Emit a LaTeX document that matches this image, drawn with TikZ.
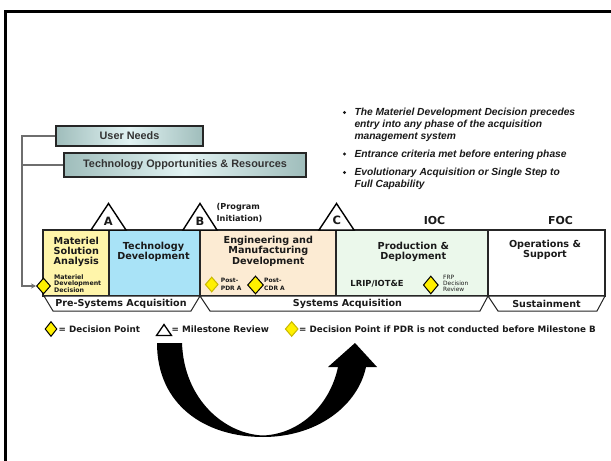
\documentclass[tikz,border=0pt]{standalone}
\usepackage{fontspec}
\setmainfont{DejaVu Sans}
\newfontfamily\arialf{Liberation Sans}
\usetikzlibrary{shapes.geometric,arrows.meta}

\definecolor{ink}{HTML}{1A1A1A}
\definecolor{msafill}{HTML}{FFF5AA}
\definecolor{tdfill}{HTML}{A9E3F7}
\definecolor{emdfill}{HTML}{FCEBD3}
\definecolor{pdfill}{HTML}{EBF8EB}
\definecolor{tealedge}{HTML}{9FBDBB}
\definecolor{tealmid}{HTML}{E2F3F3}
\definecolor{dpyellow}{HTML}{FFF000}
\definecolor{dpedge}{HTML}{C9B800}
\definecolor{railgray}{HTML}{6E6E6E}

\tikzset{
  topbox/.style={draw=black!85, line width=1.7bp, left color=tealedge, right color=tealedge,
    middle color=tealmid, text=black!80, font=\arialf\bfseries\fontsize{10.9}{12}\selectfont, inner sep=0pt},
  phasebox/.style={draw=black!85, line width=1.2bp, anchor=north west, inner sep=0pt, outer sep=0pt},
  ptitle/.style={text=ink, font=\bfseries\fontsize{9.7}{10.2}\selectfont, align=center, inner sep=0pt},
  dpoint/.style={diamond, draw=black, line width=1bp, fill=dpyellow, inner sep=0pt,
    minimum width=14bp, minimum height=16bp},
  dpalt/.style={dpoint, draw=dpedge},
  mstri/.style={draw=black, line width=1.4bp, fill=white, line join=miter},
  mslet/.style={text=ink, font=\bfseries\fontsize{11.5}{12}\selectfont, inner sep=0pt},
  band/.style={draw=black!85, line width=1bp, fill=white, line join=miter},
  bandtxt/.style={text=ink, font=\bfseries\fontsize{9.6}{10}\selectfont, inner sep=0pt},
  tinytxt/.style={text=ink, align=left, inner sep=0pt, anchor=west},
  legtxt/.style={text=ink, font=\bfseries\fontsize{8.8}{10}\selectfont, inner sep=0pt, anchor=west},
  notetxt/.style={text=ink, font=\arialf\bfseries\itshape\fontsize{10.3}{12.2}\selectfont,
    align=left, inner sep=0pt, anchor=north west},
  notedot/.style={circle, fill=ink, minimum size=3.2bp, inner sep=0pt},
  rail/.style={draw=railgray, line width=1.2bp},
}

\begin{document}
\begin{tikzpicture}[x=1bp,y=-1bp]
\useasboundingbox (0,0) rectangle (611,461);
\fill[white] (0,0) rectangle (611,461);

% outer frame
\draw[line width=2.6bp] (5.6,480) -- (5.6,11.4) -- (630,11.4);

% inputs
\node[topbox, minimum width=147bp, minimum height=20bp] (un) at (129.5,136) {User Needs};
\node[topbox, minimum width=242bp, minimum height=24bp] (tor) at (185,165) {Technology Opportunities \& Resources};

% notes
\node[notedot] (d1) at (344.5,112.5) {};
\node[notetxt] (t1) at (354.3,107.6) {The Materiel Development Decision precedes\\entry into any phase of the acquisition\\management system};
\node[notedot] (d2) at (344.5,154) {};
\node[notetxt] (t2) at (354.3,149.4) {Entrance criteria met before entering phase};
\node[notedot] (d3) at (344.5,172.5) {};
\node[notetxt] (t3) at (354.3,167.6) {Evolutionary Acquisition or Single Step to\\Full Capability};

% phases
\node[phasebox, fill=msafill, minimum width=66bp, minimum height=66bp] (msa) at (43,230) {};
\node[phasebox, fill=tdfill, minimum width=91bp, minimum height=66bp] (td) at (109,230) {};
\node[phasebox, fill=emdfill, minimum width=136bp, minimum height=66bp] (emd) at (200,230) {};
\node[phasebox, fill=pdfill, minimum width=152bp, minimum height=66bp] (pd) at (336,230) {};
\node[phasebox, fill=white, minimum width=117bp, minimum height=66bp] (os) at (488,230) {};

\node[ptitle] (msat) at (76.3,252) {Materiel\\Solution\\Analysis};
\node[ptitle] (tdt) at (153.5,251.7) {Technology\\Development};
\node[ptitle] (emdt) at (268.3,251.2) {Engineering and\\Manufacturing\\Development};
\node[ptitle] (pdt) at (413.3,252.2) {Production \&\\Deployment};
\node[ptitle] (ost) at (545,249.5) {Operations \&\\Support};

% acquisition bands
\draw[band] (44,296) -- (200,296) -- (191,311) -- (53,311) -- cycle;
\draw[band] (200,296) -- (488,296) -- (480,311) -- (210,311) -- cycle;
\draw[band] (488,296) -- (605,296) -- (597,311) -- (498,311) -- cycle;
\node[bandtxt] (pre) at (121,303.5) {Pre-Systems Acquisition};
\node[bandtxt] (sys) at (347.5,303.5) {Systems Acquisition};
\node[bandtxt] (sus) at (546.5,303.5) {Sustainment};

% milestones
\draw[mstri] (108.5,203.5) -- (126,230) -- (91,230) -- cycle;
\draw[mstri] (200,203.5) -- (217,230) -- (183,230) -- cycle;
\draw[mstri] (336.5,203.5) -- (354,230) -- (319,230) -- cycle;
\node[mslet] (msA) at (108.3,221.5) {A};
\node[mslet] (msB) at (200,221) {B};
\node[mslet] (msC) at (336.7,220.5) {C};
\node[tinytxt, font=\bfseries\fontsize{8.2}{11.5}\selectfont] (pi) at (216.5,213) {(Program\\Initiation)};
\node[mslet, font=\bfseries\fontsize{11}{12}\selectfont] (ioc) at (434.5,220.8) {IOC};
\node[mslet, font=\bfseries\fontsize{11}{12}\selectfont] (foc) at (560.5,220.8) {FOC};

% decision points
\node[dpoint] (mdd) at (43.5,286) {};
\node[tinytxt, font=\bfseries\fontsize{6.3}{6}\selectfont] (mddt) at (54,283.5) {Materiel\\Development\\Decision};
\node[dpalt, minimum width=13bp, minimum height=15bp] (pdra) at (211.7,284.5) {};
\node[tinytxt, font=\bfseries\fontsize{6}{8}\selectfont] (pdrat) at (220.7,284.3) {Post-\\PDR A};
\node[dpoint, minimum width=16bp, minimum height=18bp] (cdra) at (255.5,285) {};
\node[tinytxt, font=\bfseries\fontsize{6}{8}\selectfont] (cdrat) at (264,284.3) {Post-\\CDR A};
\node[mslet, font=\bfseries\fontsize{8.4}{9}\selectfont] (lrip) at (377,283.5) {LRIP/IOT\&E};
\node[dpoint, minimum width=15bp, minimum height=18bp] (frp) at (430.8,285) {};
\node[tinytxt, font=\fontsize{5.9}{6}\selectfont] (frpt) at (443,283) {FRP\\Decision\\Review};

% inputs feeding the materiel development decision
\coordinate (railtop) at (22,136);
\draw[rail, -{Stealth[length=5bp,width=5bp]}] (un.west) -- (un.west -| railtop) |- (mdd.west);
\draw[rail] (tor.west) -- (tor.west -| railtop);

% legend
\node[dpoint, minimum width=12bp, minimum height=15bp] (lg1) at (51,329) {};
\node[legtxt] (lg1t) at (58.5,329.5) {= Decision Point};
\draw[mstri, line width=1.3bp] (164,324.5) -- (171.5,335.5) -- (156.5,335.5) -- cycle;
\node[legtxt] (lg2t) at (171.5,329.5) {= Milestone Review};
\node[dpalt, minimum width=13bp, minimum height=15bp] (lg3) at (291.7,329) {};
\node[legtxt] (lg3t) at (299,329.5) {= Decision Point if PDR is not conducted before Milestone B};

% curved up arrow
\fill[black] (157,343) .. controls (157,405) and (205,437) .. (263,437)
  .. controls (318,437) and (358,405) .. (366,367)
  -- (377,367) -- (355,343) -- (328,367) -- (338,367)
  .. controls (330,405) and (300,434) .. (263,435.5)
  .. controls (225,434) and (184,400) .. (182,343) -- cycle;
\end{tikzpicture}
\end{document}
